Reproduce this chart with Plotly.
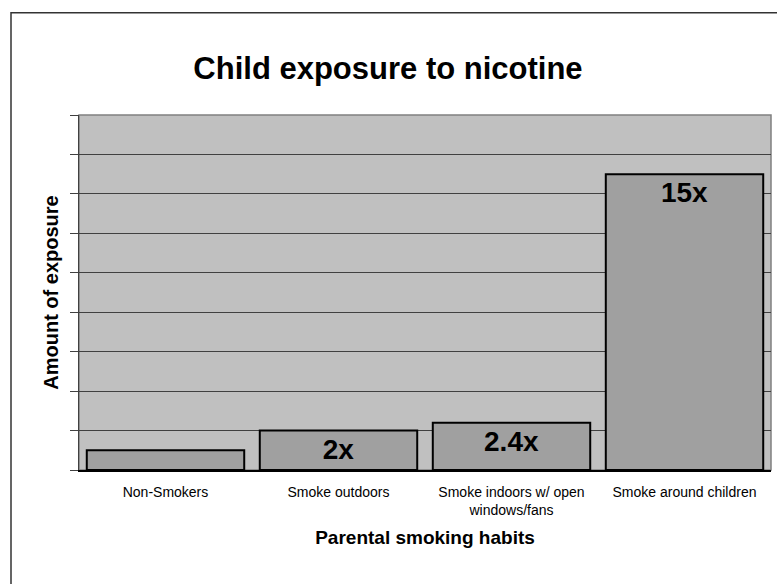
import plotly.graph_objects as go

categories = ["Non-Smokers", "Smoke outdoors", "Smoke indoors w/ open<br>windows/fans", "Smoke around children"]
values = [1, 2, 2.4, 15]
labels = ["", "<b>2x</b>", "<b>2.4x</b>", "<b>15x</b>"]
y_ticks = [0, 2, 4, 6, 8, 10, 12, 14, 16, 18]

fig = go.Figure()
fig.add_trace(go.Bar(
    x=categories, y=values, text=labels,
    textposition="inside", insidetextanchor="end",
    textfont=dict(family="Liberation Sans, Arial", size=28, color="black"),
    marker=dict(color="#A0A0A0", line=dict(color="black", width=2)),
    cliponaxis=False,
))

fig.update_layout(
    width=777, height=584,
    margin=dict(l=79, r=6, t=115, b=114),
    paper_bgcolor="white", plot_bgcolor="#C0C0C0",
    bargap=0.09,
    showlegend=False,
    uniformtext=dict(minsize=28, mode="show"),
    font=dict(family="Liberation Sans, Arial", color="black"),
    title=dict(text="<b>Child exposure to nicotine</b>", x=388/777, xref="container",
               xanchor="center", y=1 - 68/584, yanchor="middle",
               font=dict(size=31, color="black")),
    xaxis=dict(
        showgrid=False, showline=True, linecolor="black", linewidth=1.5,
        ticks="", tickfont=dict(size=14, color="black"), ticklabelstandoff=8,
        title=dict(text="<b>Parental smoking habits</b>", font=dict(size=19), standoff=14),
    ),
    yaxis=dict(
        range=[0, 18], tickvals=y_ticks, showticklabels=False,
        showgrid=True, gridcolor="#404040", gridwidth=1,
        showline=True, linecolor="#404040", linewidth=1,
        ticks="outside", ticklen=8, tickcolor="#404040",
        zeroline=False,
        title=dict(text="<b>Amount of exposure</b>", font=dict(size=20), standoff=6),
    ),
    shapes=[
        dict(type="rect", xref="paper", yref="paper", x0=0, x1=1, y0=0, y1=1,
             line=dict(color="#808080", width=1.5), layer="below"),
        dict(type="rect", xref="paper", yref="paper", x0=(11-79)/692, x1=1.2,
             y0=-0.5, y1=(470-12.7)/355, line=dict(color="#333333", width=1.5)),
    ],
)

fig.write_html("out.html")
